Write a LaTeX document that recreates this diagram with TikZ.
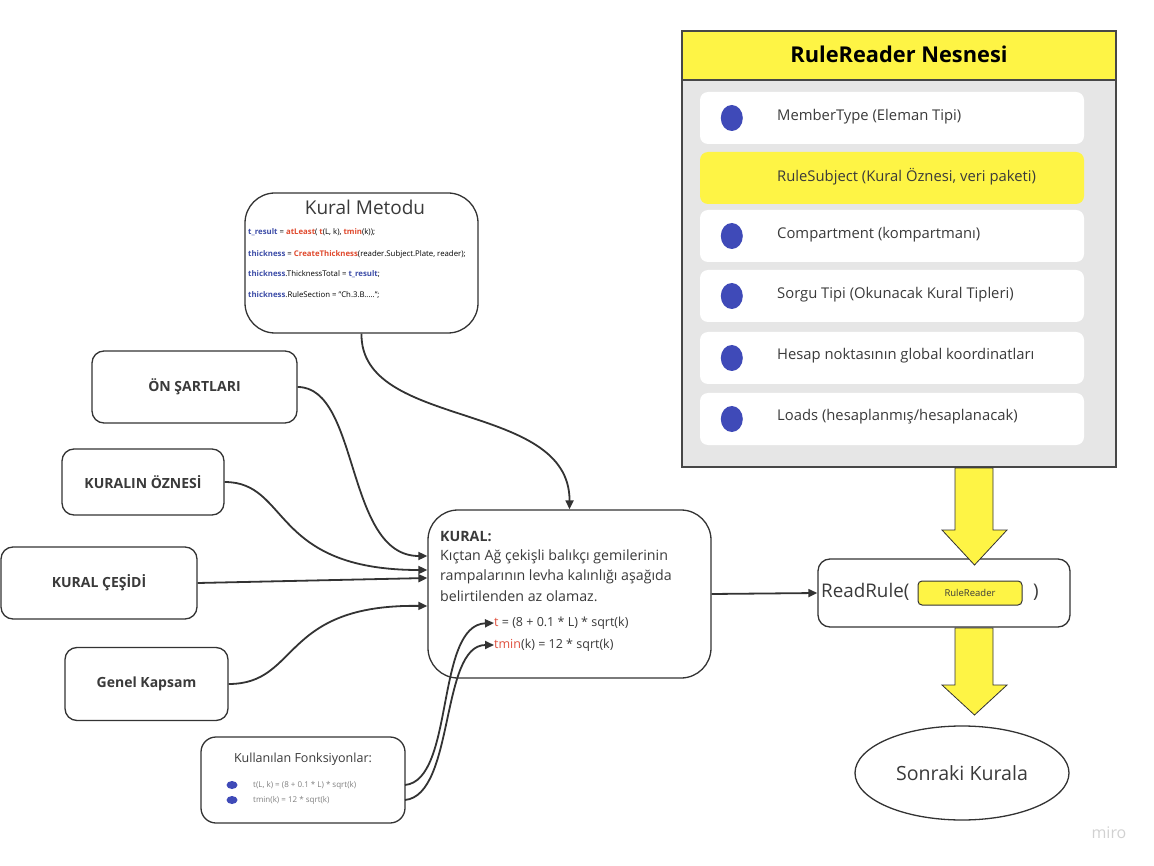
\documentclass[tikz,border=0pt]{standalone}
\usepackage{fontspec}
\setmainfont{Open Sans}
\usetikzlibrary{arrows.meta,shapes.geometric,calc}
\definecolor{dk}{HTML}{333333}
\definecolor{yel}{HTML}{FEF445}
\definecolor{panel}{HTML}{E6E6E6}
\definecolor{bblue}{HTML}{3F4AB8}
\definecolor{cblue}{HTML}{3D4DA8}
\definecolor{cred}{HTML}{E04A2E}
\definecolor{fred}{HTML}{E0513F}
\definecolor{txt}{HTML}{3A3A3A}
\newcommand{\fsz}[1]{\fontsize{#1}{#1}\selectfont}
\tikzset{
  box/.style={draw=dk, line width=1.3pt, fill=white, rounded corners=#1},
  box/.default=12pt,
  conn/.style={draw=dk, line width=1.8pt, -{Triangle[length=9pt,width=8pt]}},
  lbl/.style={inner sep=0pt, text=txt},
  row/.style={fill=white, rounded corners=8pt, minimum width=384pt, minimum height=52pt, inner sep=0pt},
  rowtxt/.style={lbl, anchor=west, font=\fsz{14.8}},
  bul/.style={fill=bblue},
  yarrow/.style={fill=yel, draw=dk, line width=0.8pt},
  code/.style={lbl, anchor=west, font=\fsz{7.8}, text=black},
  kt/.style={lbl, anchor=west, font=\fsz{14.2}},
  ftx/.style={lbl, anchor=west, font=\fsz{12.5}},
  caps/.style={box, font=\fsz{14}\bfseries, text=txt},
}
\begin{document}
\begin{tikzpicture}[x=1pt,y=-1pt]
\useasboundingbox (0,0) rectangle (1154,866);

% RuleReader panel
\node[draw=dk!90, line width=2pt, fill=panel, minimum width=434pt, minimum height=436pt, inner sep=0pt] (panel) at (899,249) {};
\node[draw=dk!90, line width=2pt, fill=yel, minimum width=434pt, minimum height=49pt, inner sep=0pt] (head) at (899,55.5) {};
\node[lbl, text=black, font=\fsz{21.8}\bfseries] (title) at (899,54) {RuleReader Nesnesi};

\node[row] (r1) at (892,118) {};
\node[row, fill=yel] (r2) at (892,178) {};
\node[row] (r3) at (892,236) {};
\node[row] (r4) at (892,296) {};
\node[row] (r5) at (892,358) {};
\node[row] (r6) at (892,419) {};
\foreach \r in {r1,r3,r4,r5,r6}{
  \fill[bul] ($(\r.west)+(32,0)$) ellipse [x radius=11, y radius=13];
}
\node[rowtxt] (t1) at (777,117) {MemberType (Eleman Tipi)};
\node[rowtxt] (t2) at (777,177) {RuleSubject (Kural Öznesi, veri paketi)};
\node[rowtxt] (t3) at (777,235) {Compartment (kompartmanı)};
\node[rowtxt] (t4) at (777,295) {Sorgu Tipi (Okunacak Kural Tipleri)};
\node[rowtxt] (t5) at (777,356) {Hesap noktasının global koordinatları};
\node[rowtxt] (t6) at (777,417) {Loads (hesaplanmış/hesaplanacak)};

% Kural Metodu
\node[box=30pt, minimum width=233pt, minimum height=140pt, inner sep=0pt] (metod) at (361.5,263) {};
\node[lbl, font=\fsz{19}] (mtitle) at (365,207) {Kural Metodu};
\node[code] (c1) at (248,232)
  {\textcolor{cblue}{\bfseries t\_result} = \textcolor{cred}{\bfseries atLeast}( \textcolor{cred}{\bfseries t}(L, k), \textcolor{cred}{\bfseries tmin}(k));};
\node[code] (c2) at (248,254)
  {\textcolor{cblue}{\bfseries thickness} = \textcolor{cred}{\bfseries CreateThickness}(reader.Subject.Plate, reader);};
\node[code] (c3) at (248,274)
  {\textcolor{cblue}{\bfseries thickness}.ThicknessTotal = \textcolor{cblue}{\bfseries t\_result};};
\node[code] (c4) at (248,295)
  {\textcolor{cblue}{\bfseries thickness}.RuleSection = "Ch.3.B.....";};

% left boxes
\node[caps, minimum width=205pt, minimum height=72pt] (on) at (194.5,387) {ÖN ŞARTLARI};
\node[caps, minimum width=162pt, minimum height=66pt] (ozne) at (143,482) {KURALIN ÖZNESİ};
\node[caps, minimum width=196pt, minimum height=72pt] (cesit) at (99,583) {KURAL ÇEŞİDİ};
\node[caps, minimum width=163pt, minimum height=73pt] (genel) at (146.5,684) {Genel Kapsam};

% KURAL box
\node[box=30pt, minimum width=283pt, minimum height=168pt, inner sep=0pt] (kural) at (569.5,594) {};
\node[kt, font=\fsz{14.2}\bfseries] (k0) at (440,537) {KURAL:};
\node[kt] (k1) at (440,557) {Kıçtan Ağ çekişli balıkçı gemilerinin};
\node[kt] (k2) at (440,577) {rampalarının levha kalınlığı aşağıda};
\node[kt] (k3) at (440,596) {belirtilenden az olamaz.};
\node[ftx] (ft) at (494,623) {\textcolor{fred}{t} = (8 + 0.1 * L) * sqrt(k)};
\node[ftx] (fm) at (494,645) {\textcolor{fred}{tmin}(k) = 12 * sqrt(k)};

% Fonksiyonlar box
\node[box=15pt, minimum width=204pt, minimum height=86pt, inner sep=0pt] (fonk) at (303,780) {};
\node[lbl, font=\fsz{12.5}] (ftitle) at (303,759) {Kullanılan Fonksiyonlar:};
\fill[bul] (232,785) ellipse [x radius=5.5, y radius=4];
\fill[bul] (232,800) ellipse [x radius=5.5, y radius=4];
\node[lbl, anchor=west, font=\fsz{8}, text=gray] (f1) at (253,785) {t(L, k) = (8 + 0.1 * L) * sqrt(k)};
\node[lbl, anchor=west, font=\fsz{8}, text=gray] (f2) at (253,800) {tmin(k) = 12 * sqrt(k)};
\coordinate (fo1) at (405,785);
\coordinate (fo2) at (405,800);

% ReadRule box
\node[box, minimum width=252pt, minimum height=68pt, inner sep=0pt] (read) at (944,593) {};
\node[lbl, anchor=west, font=\fsz{18.8}] (rtxt) at (821,592) {ReadRule(};
\node[draw=dk, line width=1pt, fill=yel, rounded corners=4pt, minimum width=104pt, minimum height=24pt, inner sep=0pt, font=\fsz{9.5}, text=txt] (rin) at (970,593) {RuleReader};
\node[lbl, anchor=west, font=\fsz{18.8}] (rpar) at (1033,592) {)};

% Sonraki Kurala
\node[draw=dk, line width=1.3pt, ellipse, minimum width=214pt, minimum height=94pt, inner sep=0pt, font=\fsz{19.6}, text=txt] (son) at (962,773) {Sonraki Kurala};

% yellow block arrows
\draw[yarrow] (955,468) -- (993,468) -- (993,530) -- (1007,530) -- (974.5,565) -- (942,530) -- (955,530) -- cycle;
\draw[yarrow] (955,628) -- (993,628) -- (993,685) -- (1007,685) -- (974.5,715) -- (942,685) -- (955,685) -- cycle;

% connectors
\draw[conn] (on.east) .. controls (360,387) and (345,556) .. ([yshift=38pt]kural.west);
\draw[conn] (ozne.east) .. controls (290,482) and (270,570) .. ([yshift=24pt]kural.west);
\draw[conn] (cesit.east) -- ([yshift=16pt]kural.west);
\draw[conn] (genel.east) .. controls (300,684) and (280,604) .. ([yshift=-12pt]kural.west);
\draw[conn] (metod.south) .. controls (360,430) and (570,400) .. (kural.north);
\draw[conn] (kural.east) -- (read.west);
\draw[conn] (fo1) .. controls (455,780) and (435,625) .. (ft.west);
\draw[conn] (fo2) .. controls (455,795) and (440,645) .. (fm.west);

% watermark
\node[lbl, text=black!18, font=\fsz{16}] (miro) at (1109,833) {miro};
\end{tikzpicture}
\end{document}
